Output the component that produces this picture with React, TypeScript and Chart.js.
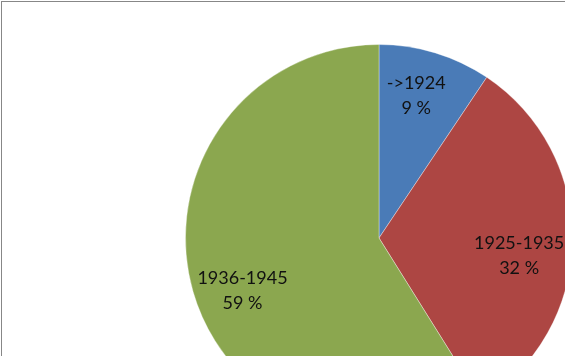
import React, { useEffect, useRef } from "react";
import { Chart, registerables } from "chart.js";

Chart.register(...registerables);

const categories = ["->1924", "1925-1935", "1936-1945"];
const shares = [9.4, 31.7, 58.9];
const percentLabels = ["9 %", "32 %", "59 %"];
const sliceColors = ["#4A7BB7", "#AD4643", "#8BA74F"];

// small placement nudges (px) for the in-slice labels, as Excel's best-fit places them
const labelNudge: [number, number][] = [
  [-5, -4],
  [-5, 15],
  [3, 12],
];

const labelPlugin = {
  id: "sliceLabels",
  afterDatasetsDraw(chart: any) {
    const ctx = chart.ctx;
    const meta = chart.getDatasetMeta(0);
    ctx.save();
    ctx.font = "18px Lato, 'Open Sans', sans-serif";
    ctx.fillStyle = "#111111";
    ctx.textAlign = "center";
    ctx.textBaseline = "middle";
    meta.data.forEach((arc: any, i: number) => {
      const p = arc.getProps(["x", "y", "startAngle", "endAngle", "outerRadius"], true);
      const mid = (p.startAngle + p.endAngle) / 2;
      const r = p.outerRadius * 0.75;
      const cx = p.x + Math.cos(mid) * r + labelNudge[i][0];
      const cy = p.y + Math.sin(mid) * r + labelNudge[i][1];
      ctx.fillText(categories[i], cx, cy - 12);
      ctx.fillText(percentLabels[i], cx, cy + 13);
    });
    ctx.restore();
  },
};

export default function App() {
  const ref = useRef<HTMLCanvasElement | null>(null);
  useEffect(() => {
    if (!ref.current) return;
    const chart = new Chart(ref.current, {
      type: "pie",
      data: {
        labels: categories,
        datasets: [
          {
            data: shares,
            backgroundColor: sliceColors,
            borderColor: "rgba(255,255,255,0.35)",
            borderWidth: 1,
            clip: false,
          } as any,
        ],
      },
      options: {
        responsive: false,
        animation: false,
        radius: 193.5,
        layout: { padding: { left: 193, top: 120, right: 0, bottom: 0 } },
        plugins: {
          legend: { display: false },
          tooltip: { enabled: false },
          title: { display: false },
        },
      } as any,
      plugins: [labelPlugin],
    });
    return () => chart.destroy();
  }, []);

  return (
    <div
      style={{
        position: "fixed",
        left: 0,
        top: 0,
        width: 565,
        height: 356,
        overflow: "hidden",
        background: "#ffffff",
      }}
    >
      <canvas ref={ref} width={565} height={356} style={{ position: "absolute", left: 0, top: 0 }} />
      <div
        style={{
          position: "absolute",
          left: 1,
          top: 1,
          width: 700,
          height: 500,
          borderTop: "1px solid #878787",
          borderLeft: "1px solid #878787",
          pointerEvents: "none",
        }}
      />
    </div>
  );
}
